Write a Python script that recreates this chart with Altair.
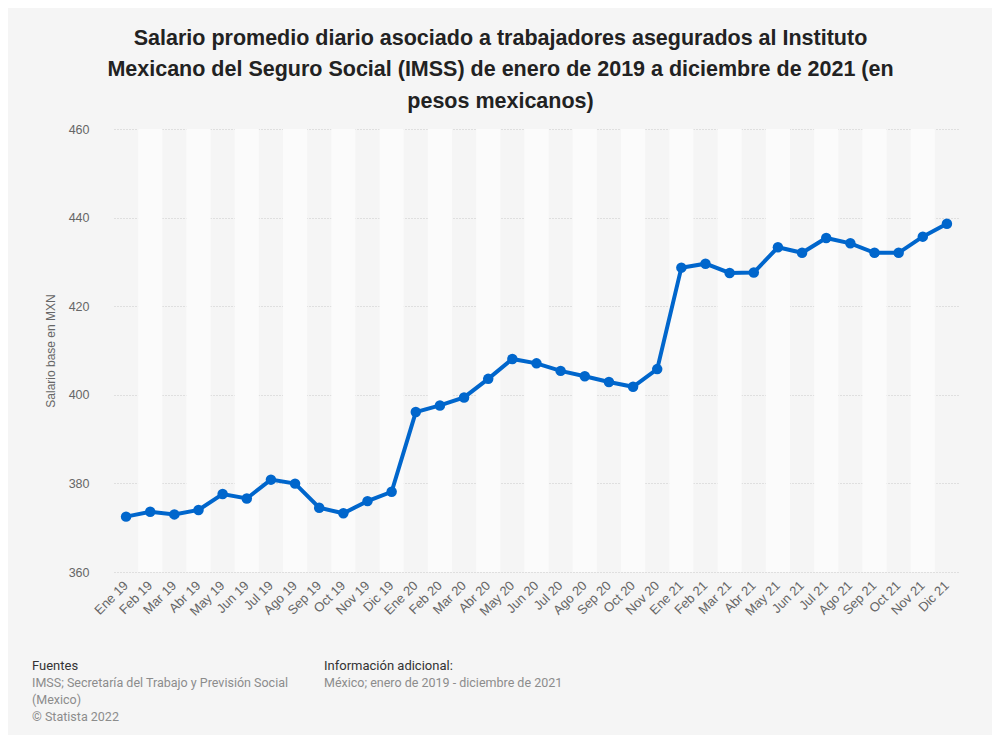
import altair as alt
import pandas as pd

months = ["Ene 19", "Feb 19", "Mar 19", "Abr 19", "May 19", "Jun 19", "Jul 19", "Ago 19",
          "Sep 19", "Oct 19", "Nov 19", "Dic 19",
          "Ene 20", "Feb 20", "Mar 20", "Abr 20", "May 20", "Jun 20", "Jul 20", "Ago 20",
          "Sep 20", "Oct 20", "Nov 20",
          "Ene 21", "Feb 21", "Mar 21", "Abr 21", "May 21", "Jun 21", "Jul 21", "Ago 21",
          "Sep 21", "Oct 21", "Nov 21", "Dic 21"]
values = [372.5, 373.6, 373.0, 374.0, 377.6, 376.6, 380.85, 379.95,
          374.5, 373.25, 376.0, 378.1,
          396.1, 397.6, 399.4, 403.6, 408.1, 407.1, 405.4, 404.2,
          402.9, 401.8, 405.8,
          428.7, 429.6, 427.5, 427.6, 433.3, 432.05, 435.4, 434.2,
          432.05, 432.05, 435.7, 438.6]

title_lines = ["Salario promedio diario asociado a trabajadores asegurados al Instituto",
               "Mexicano del Seguro Social (IMSS) de enero de 2019 a diciembre de 2021 (en",
               "pesos mexicanos)"]
y_title = "Salario base en MXN"
src_head = "Fuentes"
src_body = ["IMSS; Secretaría del Trabajo y Previsión Social", "(Mexico)", "© Statista 2022"]
info_head = "Información adicional:"
info_body = ["México; enero de 2019 - diciembre de 2021"]

df = pd.DataFrame({"month": months, "value": values})
bands = pd.DataFrame({"month": [m for i, m in enumerate(months) if i % 2 == 1]})

W, H = 845, 443
FONT = "Roboto"
AXFONT = "Liberation Sans"

xscale = alt.Scale(domain=months, paddingInner=0, paddingOuter=0)
x_enc = alt.X("month:N", scale=xscale, sort=months,
              axis=alt.Axis(title=None, labelAngle=-45, labelAlign="right",
                            labelBaseline="middle", labelPadding=11, ticks=False,
                            domain=False, labelColor="#666666", labelFont=AXFONT,
                            labelFontSize=13, grid=False, labelOverlap=False))
yscale = alt.Scale(domain=[360, 460], nice=False, zero=False)

band_layer = alt.Chart(bands).mark_rect(color="#fbfbfb").encode(x=x_enc)

line_layer = alt.Chart(df).mark_line(color="#0066cc", strokeWidth=4).encode(
    x=x_enc,
    y=alt.Y("value:Q", scale=yscale,
            axis=alt.Axis(values=[360, 380, 400, 420, 440, 460], title=y_title,
                          grid=True, gridColor="#c8c8c8", gridDash=[1, 2], gridWidth=1,
                          domain=False, ticks=False, labelPadding=25,
                          labelColor="#666666", labelFont=AXFONT, labelFontSize=12.5,
                          titleColor="#666666", titleFont=AXFONT, titleFontSize=12,
                          titleFontWeight="normal", titleX=-64, titleY=H / 2,
                          titleAngle=-90, titleBaseline="middle", titleAlign="center")),
)
point_layer = alt.Chart(df).mark_point(filled=True, size=110, color="#0066cc", opacity=1).encode(
    x=x_enc, y=alt.Y("value:Q", scale=yscale)
)

foot = pd.DataFrame({"a": [0]})
def txt(text, x, y, color, size=12.5):
    return alt.Chart(foot).mark_text(
        text=text, align="left", baseline="alphabetic", font=FONT, fontSize=size,
        color=color, lineHeight=17
    ).encode(x=alt.value(x), y=alt.value(y))

fy = 670 - 129
footer = (txt(src_head, 32 - 114, fy, "#333333", 13)
          + txt(src_body, 32 - 114, fy + 17, "#8c8c8c")
          + txt(info_head, 324 - 114, fy, "#333333", 13)
          + txt(info_body, 324 - 114, fy + 17, "#8c8c8c"))

chart = alt.layer(band_layer, line_layer, point_layer, footer).properties(
    width=W, height=H,
    title=alt.TitleParams(text=title_lines, fontSize=21.5, font="Liberation Sans",
                          fontWeight="bold", color="#222222", lineHeight=31.5,
                          anchor="middle", dx=-36, offset=11),
    padding={"left": 106, "top": 121, "right": 33, "bottom": 163},
    autosize=alt.AutoSizeParams(type="none"),
    background="#f5f5f5",
).configure_view(stroke=None)

chart.save("out.html", embed_options={"renderer": "svg", "actions": False})
